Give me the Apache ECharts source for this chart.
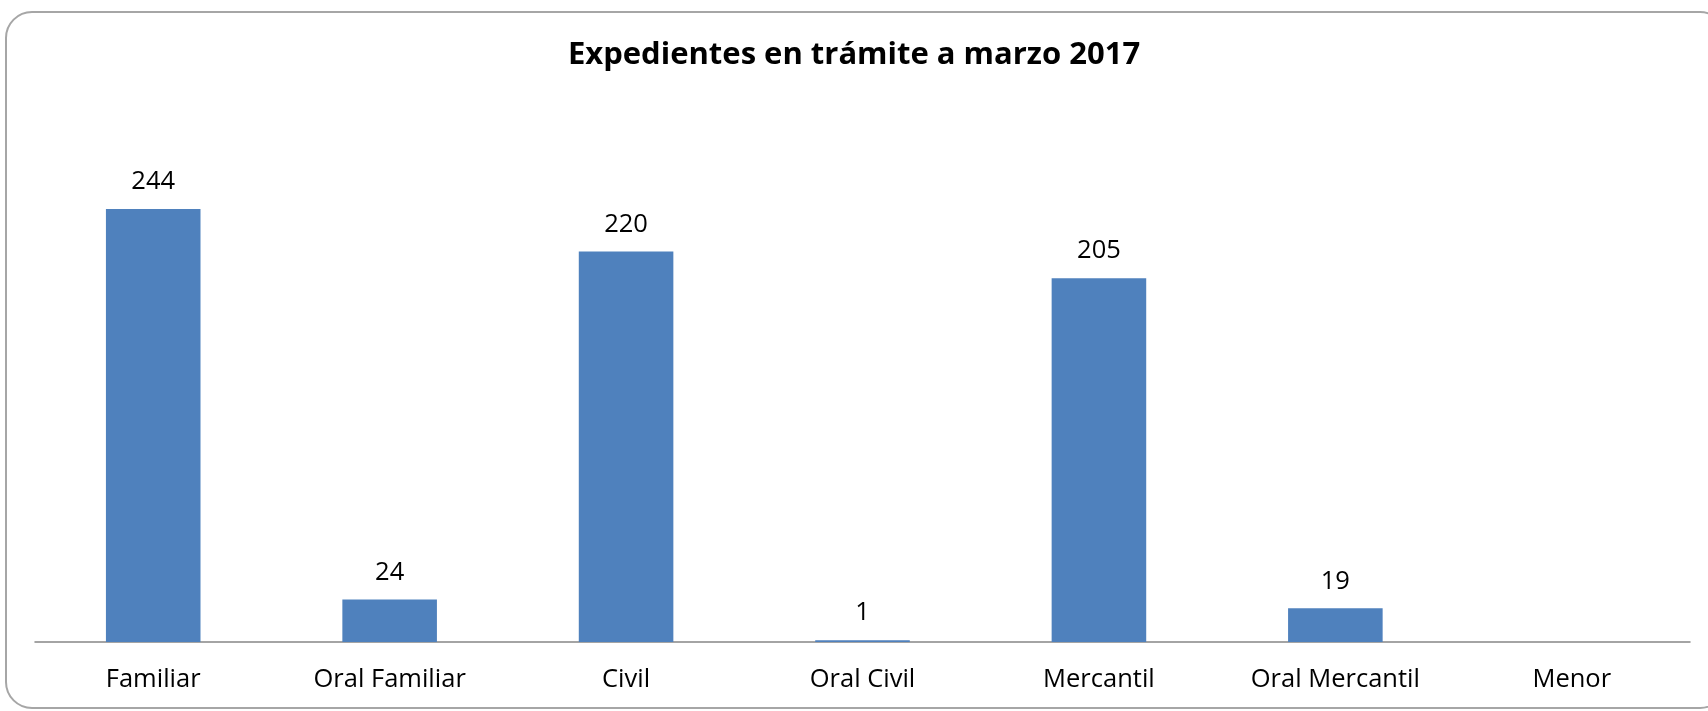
<!DOCTYPE html>
<html>
<head>
<meta charset="utf-8">
<script src="https://cdn.jsdelivr.net/npm/echarts@6/dist/echarts.min.js"></script>
<style>
html,body{margin:0;padding:0;background:#fff;}
#main{width:1708px;height:711px;}
</style>
</head>
<body>
<div id="main"></div>
<script>
const titleText = 'Expedientes en trámite a marzo 2017';
const categories = ['Familiar', 'Oral Familiar', 'Civil', 'Oral Civil', 'Mercantil', 'Oral Mercantil', 'Menor'];
const values = [244, 24, 220, 1, 205, 19, null];

const chart = echarts.init(document.getElementById('main'));
chart.setOption({
  backgroundColor: '#ffffff',
  animation: false,
  title: {
    text: titleText,
    left: 'center',
    top: 35,
    textStyle: { fontFamily: 'Open Sans', fontWeight: 'bold', fontSize: 31, color: '#000' }
  },
  graphic: [{
    type: 'rect',
    shape: { x: 6, y: 12, width: 1720, height: 696, r: 26 },
    style: { fill: 'none', stroke: '#a6a6a6', lineWidth: 2 },
    silent: true
  }],
  grid: { left: 35, right: 18, top: 109.5, bottom: 69, containLabel: false },
  xAxis: {
    type: 'category',
    data: categories,
    axisLine: { show: true, lineStyle: { color: '#868686', width: 1.5 } },
    axisTick: { show: false },
    axisLabel: { color: '#000', fontFamily: 'Open Sans', fontSize: 25.5, margin: 25, interval: 0 }
  },
  yAxis: {
    type: 'value',
    min: 0, max: 300, interval: 50,
    show: false,
    splitLine: { show: false }
  },
  series: [{
    type: 'bar',
    data: values,
    barWidth: '40%',
    itemStyle: { color: '#4f81bd' },
    label: {
      show: true, position: 'top', distance: 14,
      color: '#000', fontFamily: 'Open Sans', fontSize: 25.5
    }
  }]
});
</script>
</body>
</html>
